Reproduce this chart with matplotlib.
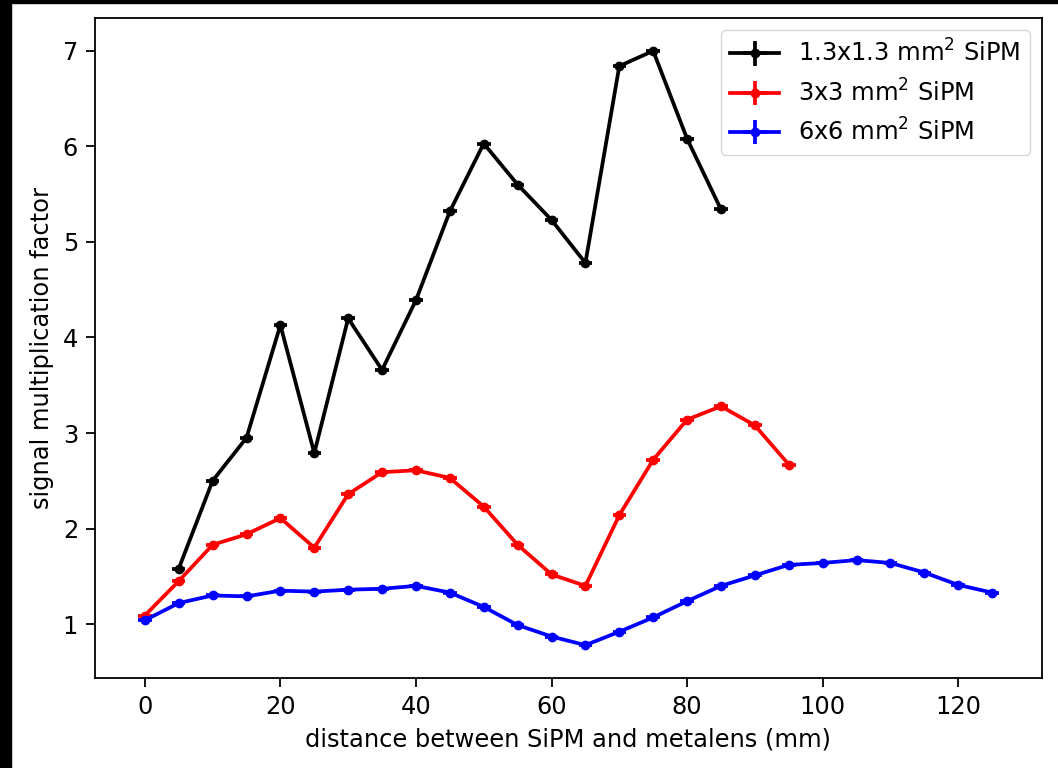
import matplotlib
matplotlib.use("Agg")
import matplotlib.pyplot as plt
from matplotlib.patches import Rectangle

# distance between SiPM and metalens (mm)
dist_small = [5, 10, 15, 20, 25, 30, 35, 40, 45, 50, 55, 60, 65, 70, 75, 80, 85]
dist_mid = [0, 5, 10, 15, 20, 25, 30, 35, 40, 45, 50, 55, 60, 65, 70, 75, 80, 85, 90, 95]
dist_large = [0, 5, 10, 15, 20, 25, 30, 35, 40, 45, 50, 55, 60, 65, 70, 75, 80, 85,
              90, 95, 100, 105, 110, 115, 120, 125]

# signal multiplication factor
sig_small = [1.58, 2.50, 2.95, 4.13, 2.79, 4.20, 3.66, 4.39, 5.32, 6.03, 5.60,
             5.23, 4.78, 6.84, 7.00, 6.08, 5.34]
sig_mid = [1.09, 1.45, 1.83, 1.94, 2.11, 1.80, 2.36, 2.59, 2.61, 2.53, 2.23,
           1.83, 1.52, 1.40, 2.14, 2.72, 3.14, 3.28, 3.08, 2.67]
sig_large = [1.04, 1.22, 1.30, 1.29, 1.35, 1.34, 1.36, 1.37, 1.40, 1.33, 1.18,
             0.99, 0.87, 0.78, 0.92, 1.07, 1.24, 1.40, 1.51, 1.62, 1.64, 1.67,
             1.64, 1.54, 1.41, 1.33]

labels = ["1.3x1.3 mm$^2$ SiPM", "3x3 mm$^2$ SiPM", "6x6 mm$^2$ SiPM"]
colors = ["black", "red", "blue"]

plt.rcParams["font.size"] = 17.4
plt.rcParams["axes.linewidth"] = 1.3
plt.rcParams["axes.labelpad"] = 6.5

fig = plt.figure(figsize=(10.58, 7.68), dpi=100)
ax = fig.add_axes([0.0898, 0.1172, 0.895, 0.8594])

series = [(dist_small, sig_small), (dist_mid, sig_mid), (dist_large, sig_large)]
for (x, y), lab, c in zip(series, labels, colors):
    ax.errorbar(x, y, xerr=1.0, yerr=0.03, fmt=".-", color=c, lw=2.7,
                elinewidth=2.7, ms=12, label=lab)

ax.set_xlabel("distance between SiPM and metalens (mm)")
ax.set_ylabel("signal multiplication factor")
ax.tick_params(length=6.5, width=1.3, pad=5.7)
ax.legend(loc="upper right")

# black screenshot border on left and top
fig.patches.append(Rectangle((0, 0), 11 / 1058, 1, transform=fig.transFigure,
                             color="black", zorder=10))
fig.patches.append(Rectangle((0, 1 - 3 / 768), 1, 3 / 768, transform=fig.transFigure,
                             color="black", zorder=10))

fig.savefig("out.png", dpi=100)
